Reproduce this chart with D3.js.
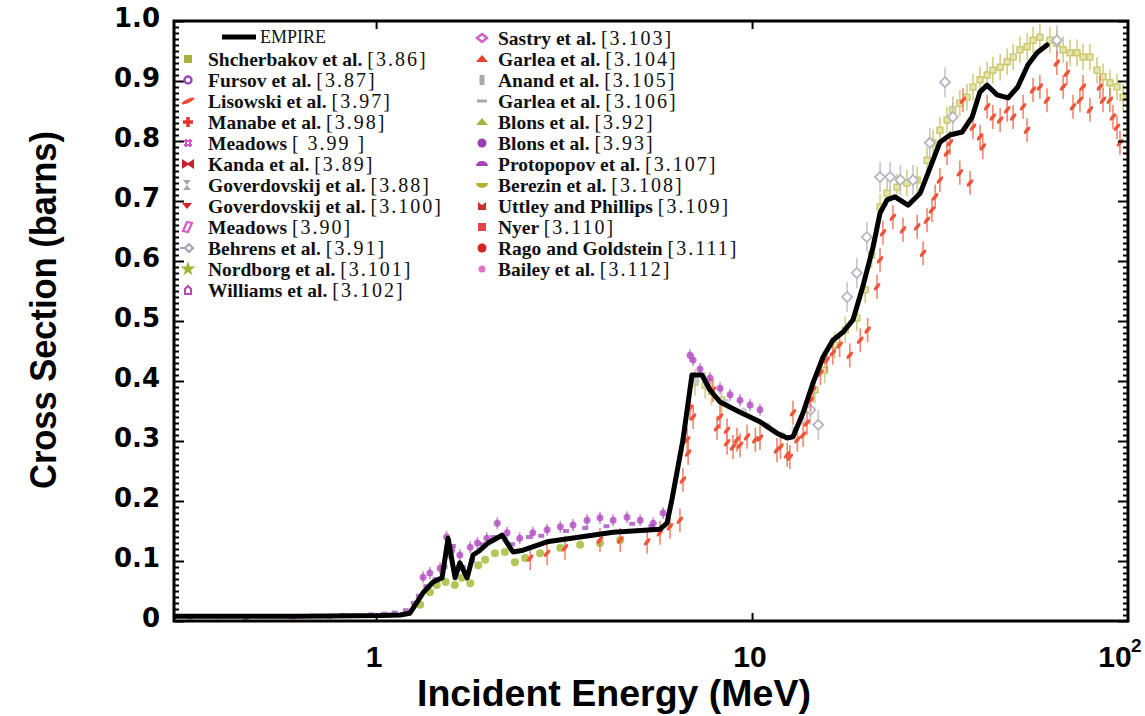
<!DOCTYPE html>
<html>
<head>
<meta charset="utf-8">
<script src="https://cdn.jsdelivr.net/npm/d3@7"></script>
<style>
body { margin: 0; background: #fff; }
</style>
</head>
<body>
<div id="chart"></div>
<script>
// EMPIRE evaluation (E in MeV, cross section in barns)
const empire = [[0.29,0.008],[0.63,0.008],[1.025,0.009],[1.158,0.010],[1.23,0.013],[1.333,0.047],[1.418,0.065],
  [1.498,0.072],[1.554,0.138],[1.622,0.072],[1.67,0.097],[1.746,0.072],[1.811,0.11],[1.89,0.118],[1.985,0.13],
  [2.163,0.143],[2.313,0.115],[2.46,0.118],[2.85,0.132],[3.49,0.14],[4.27,0.148],[5.69,0.153],[5.94,0.163],
  [6.12,0.202],[6.55,0.302],[6.92,0.41],[7.36,0.41],[7.73,0.385],[8.22,0.365],[9.29,0.348],[10.5,0.332],
  [11.65,0.313],[12.4,0.305],[12.85,0.307],[13.67,0.347],[14.53,0.397],[15.45,0.44],[16.4,0.468],[17.5,0.482],
  [18.56,0.502],[19.7,0.557],[20.98,0.623],[21.9,0.68],[22.86,0.702],[24.0,0.707],[26.0,0.693],[28.0,0.713],
  [29.4,0.747],[31.6,0.798],[33.6,0.81],[36.2,0.815],[38.5,0.84],[40.4,0.882],[42.2,0.893],[44.8,0.877],
  [48.0,0.872],[50.9,0.89],[54.2,0.927],[57.3,0.947],[60.9,0.96]];

// experimental sets
const lisowski = [[2.57,0.105],[2.85,0.113],[3.18,0.122],[3.94,0.135],[4.46,0.135],[5.26,0.132],[5.69,0.147],
  [6.05,0.157],[6.43,0.168],[6.55,0.235],[6.76,0.28],[6.72,0.302],[6.84,0.355],[6.97,0.34],[7.87,0.385],
  [8.22,0.34],[8.07,0.322],[8.58,0.318],[8.58,0.297],[8.9,0.29],[9.12,0.302],[9.29,0.293],[9.7,0.307],
  [10.2,0.302],[10.5,0.305],[11.65,0.285],[11.9,0.29],[12.4,0.277],[12.6,0.273],[13.2,0.302],[13.67,0.31],
  [12.85,0.347],[14.0,0.33],[14.3,0.368],[14.53,0.385],[15.2,0.413],[15.8,0.435],[16.4,0.447],[17.1,0.46],
  [18.2,0.443],[19.4,0.468],[20.3,0.485],[21.5,0.557],[21.9,0.602],[22.3,0.647],[23.7,0.673],[25.2,0.652],
  [27.5,0.657],[28.5,0.613],[29.2,0.668],[30.1,0.685],[30.7,0.707],[31.6,0.735],[33.0,0.78],[33.6,0.797],
  [35.7,0.747],[38.0,0.73],[36.4,0.868],[38.7,0.823],[40.4,0.807],[41.1,0.79],[42.2,0.857],[43.7,0.84],
  [45.7,0.835],[47.7,0.852],[49.5,0.84],[52.6,0.857],[53.9,0.818],[55.9,0.885],[58.3,0.89],[60.9,0.868],
  [64.7,0.93],[67.2,0.89],[68.8,0.913],[71.4,0.857],[74.5,0.868],[75.9,0.89],[79.2,0.852],[84.2,0.89],
  [85.8,0.868],[89.5,0.868],[91.2,0.84],[93.5,0.823],[95.2,0.797]];
const shcherbakov = [[7.05,0.398],[7.5,0.393],[7.8,0.382],[8.3,0.368],[14.7,0.385],[15.6,0.418],[16.6,0.46],
  [17.7,0.485],[19.0,0.505],[20.0,0.552],[20.8,0.61],[21.9,0.69],[22.86,0.713],[24.3,0.723],[25.8,0.73],
  [27.5,0.735],[29.2,0.768],[30.3,0.797],[31.6,0.818],[33.0,0.835],[34.2,0.852],[35.7,0.863],[37.3,0.873],
  [38.7,0.89],[40.4,0.902],[42.2,0.91],[43.7,0.918],[45.7,0.923],[47.7,0.932],[49.5,0.94],[51.6,0.952],
  [53.9,0.957],[55.9,0.968],[58.3,0.973],[62.0,0.968],[64.7,0.963],[67.2,0.952],[70.1,0.947],[73.2,0.947],
  [75.9,0.94],[79.2,0.94],[82.7,0.918],[85.8,0.907],[89.5,0.897],[93.5,0.89],[97.0,0.873]];
const behrens = [[14.3,0.352],[15.0,0.327],[17.9,0.54],[19.0,0.58],[20.2,0.64],[21.9,0.74],[23.3,0.74],
  [24.8,0.735],[26.8,0.735],[29.7,0.797],[32.6,0.898],[34.2,0.84],[64.7,0.968]];
const meadowsLow = [[1.333,0.073],[1.39,0.08],[1.48,0.088],[1.54,0.14],[1.59,0.118],[1.67,0.11],[1.78,0.123],
  [1.86,0.13],[1.97,0.138],[2.1,0.163],[2.23,0.147],[2.41,0.138],[2.61,0.147],[2.85,0.152],[3.09,0.157],
  [3.34,0.16],[3.64,0.168],[3.94,0.172],[4.27,0.168],[4.65,0.173],[5.04,0.168],[5.46,0.163],[5.8,0.18],
  [6.84,0.443],[6.97,0.435],[7.27,0.42],[7.73,0.405],[8.22,0.388],[8.74,0.377],[9.29,0.368],[9.88,0.36],
  [10.5,0.352]];
const fursov = [[0.32,0.006],[0.38,0.007],[0.45,0.005],[0.52,0.008],[0.6,0.006],[0.68,0.009],[0.75,0.007],
  [0.82,0.01],[0.9,0.009],[0.97,0.011],[1.05,0.012],[1.12,0.014],[1.2,0.018],[1.26,0.03],[1.3,0.042],
  [1.36,0.058],[1.44,0.07],[1.52,0.09],[1.6,0.125],[1.7,0.09],[1.8,0.1],[1.92,0.128],[2.05,0.14],
  [2.3,0.128],[2.55,0.14],[2.75,0.142],[3.2,0.15],[3.6,0.155],[4.1,0.158],[4.8,0.162],[5.4,0.158]];
const nordborg = [[1.31,0.027],[1.39,0.048],[1.45,0.06],[1.53,0.065],[1.57,0.11],[1.62,0.06],[1.69,0.072],
  [1.78,0.063],[1.87,0.093],[1.95,0.102],[2.07,0.113],[2.2,0.115],[2.34,0.098],[2.49,0.105],[2.73,0.113],
  [3.09,0.122],[3.49,0.127],[3.94,0.13],[4.46,0.135]];
const goverdovskij = [[7.1,0.40],[7.6,0.39],[8.5,0.365],[9.5,0.35],[11.0,0.325],[12.0,0.31],[13.0,0.32],
  [13.6,0.335]];

// ticks
const yMajor = [0, 0.1, 0.2, 0.3, 0.4, 0.5, 0.6, 0.7, 0.8, 0.9, 1.0];
const yTickLabels = ["0", "0.1", "0.2", "0.3", "0.4", "0.5", "0.6", "0.7", "0.8", "0.9", "1.0"];
const xMajor = [1, 10, 100];
const xTickLabels = ["1", "10", "10"];

// legend
const legendLeftNames = ["Shcherbakov et al.", "Fursov et al.", "Lisowski et al.", "Manabe et al.", "Meadows",
  "Kanda et al.", "Goverdovskij et al.", "Goverdovskij et al.", "Meadows", "Behrens et al.", "Nordborg et al.",
  "Williams et al."];
const legendLeftRefs = ["[3.86]", "[3.87]", "[3.97]", "[3.98]", "[ 3.99 ]", "[3.89]", "[3.88]", "[3.100]",
  "[3.90]", "[3.91]", "[3.101]", "[3.102]"];
const legendRightNames = ["Sastry et al.", "Garlea et al.", "Anand et al.", "Garlea et al.", "Blons et al.",
  "Blons et al.", "Protopopov et al.", "Berezin et al.", "Uttley and Phillips", "Nyer", "Rago and Goldstein",
  "Bailey et al."];
const legendRightRefs = ["[3.103]", "[3.104]", "[3.105]", "[3.106]", "[3.92]", "[3.93]", "[3.107]", "[3.108]",
  "[3.109]", "[3.110]", "[3.111]", "[3.112]"];

const leftSyms = [["sq", "#a9b23c"], ["circOpen", "#9a46b8"], ["slash", "#f04a36"], ["plus", "#e8342e"],
  ["hash", "#d456c4"], ["bowtie", "#c8202e"], ["hourglass", "#a8a8ac"], ["triDown", "#d42020"],
  ["diamSlant", "#d45cc8"], ["diamTail", "#a0a4b4"], ["star", "#9db634"], ["house", "#b848b8"]];
const rightSyms = [["diamOpen", "#d060c4"], ["triUp", "#e4402c"], ["vbar", "#a8a8a8"], ["hbar", "#a8a8a8"],
  ["triUp", "#a2b444"], ["circ", "#9a40b4"], ["semiUp", "#a844b8"], ["semiDown", "#b4b42c"],
  ["sqNotch", "#d0302c"], ["sq", "#e84444"], ["circ", "#d42424"], ["circSmall", "#e070c8"]];

const W = 1145, H = 716;
const svg = d3.select("#chart").append("svg").attr("width", W).attr("height", H);

const x = d3.scaleLog().domain([0.29, 100]).range([174, 1128]);
const y = d3.scaleLinear().domain([0, 1]).range([621, 21]);

svg.append("clipPath").attr("id", "plotclip")
  .append("rect").attr("x", 175).attr("y", 22).attr("width", 952).attr("height", 598);

const plot = svg.append("g").attr("clip-path", "url(#plotclip)");

// generic error-bar scatter
function errSet(data, color, ey, exFrac, opacity) {
  const g = plot.append("g").attr("stroke", color).attr("stroke-width", 1.6).attr("opacity", opacity);
  g.selectAll("line.v").data(data).enter().append("line")
    .attr("x1", d => x(d[0])).attr("x2", d => x(d[0]))
    .attr("y1", d => y(d[1] - ey)).attr("y2", d => y(d[1] + ey));
  g.selectAll("line.h").data(data).enter().append("line")
    .attr("x1", d => x(d[0] * (1 - exFrac))).attr("x2", d => x(d[0] * (1 + exFrac)))
    .attr("y1", d => y(d[1])).attr("y2", d => y(d[1]));
  return g;
}

// Shcherbakov (pale olive squares with bars)
errSet(shcherbakov, "#cdca72", 0.022, 0.012, 0.9);
plot.append("g").selectAll("rect").data(shcherbakov).enter().append("rect")
  .attr("x", d => x(d[0]) - 3).attr("y", d => y(d[1]) - 3).attr("width", 6).attr("height", 6)
  .attr("fill", "#e6e4a8").attr("stroke", "#c4c262").attr("stroke-width", 1.2);

// Behrens (grey open diamonds)
errSet(behrens, "#bcbcc6", 0.025, 0.015, 0.85);
plot.append("g").selectAll("path").data(behrens).enter().append("path")
  .attr("transform", d => `translate(${x(d[0])},${y(d[1])})`)
  .attr("d", "M0,-5L5,0L0,5L-5,0Z")
  .attr("fill", "#fff").attr("stroke", "#b0b2c0").attr("stroke-width", 1.7);

// Goverdovskij (grey)
plot.append("g").selectAll("circle").data(goverdovskij).enter().append("circle")
  .attr("cx", d => x(d[0])).attr("cy", d => y(d[1])).attr("r", 3.5)
  .attr("fill", "#c4c4d0").attr("opacity", 0.8);

// Nordborg (olive green, below the curve)
plot.append("g").selectAll("circle").data(nordborg).enter().append("circle")
  .attr("cx", d => x(d[0])).attr("cy", d => y(d[1])).attr("r", 4)
  .attr("fill", "#a6bc3a").attr("opacity", 0.85);

// Meadows / Fursov (purple, magenta)
errSet(meadowsLow, "#c070cc", 0.01, 0.006, 0.8);
plot.append("g").selectAll("circle").data(meadowsLow).enter().append("circle")
  .attr("cx", d => x(d[0])).attr("cy", d => y(d[1])).attr("r", 3.5)
  .attr("fill", "#b24cc0").attr("opacity", 0.8);
plot.append("g").selectAll("rect").data(fursov).enter().append("rect")
  .attr("x", d => x(d[0]) - 3).attr("y", d => y(d[1]) - 2).attr("width", 6).attr("height", 4)
  .attr("fill", "#9a46b8").attr("opacity", 0.75);

// Lisowski (red slashes with error bars)
errSet(lisowski, "#f37a62", 0.02, 0.012, 0.9);
plot.append("g").selectAll("ellipse").data(lisowski).enter().append("ellipse")
  .attr("transform", d => `translate(${x(d[0])},${y(d[1])}) rotate(-50)`)
  .attr("rx", 4.5).attr("ry", 1.8)
  .attr("fill", "#f0553c");

// EMPIRE
plot.append("path").datum(empire)
  .attr("fill", "none").attr("stroke", "#000").attr("stroke-width", 5)
  .attr("stroke-linejoin", "round").attr("stroke-linecap", "round")
  .attr("d", d3.line().x(d => x(d[0])).y(d => y(d[1])));

// axes: inward ticks on all sides
const yMinor = y.ticks(100).filter(v => Math.round(v * 100) % 10 !== 0);
function tickAxis(axis, tr) {
  const g = svg.append("g").attr("transform", tr).call(axis);
  g.select(".domain").remove();
  g.selectAll("line").attr("stroke", "#000").attr("stroke-width", 2);
  return g;
}
tickAxis(d3.axisLeft(y).tickValues(yMajor).tickSize(-10).tickFormat(""), "translate(174,0)");
tickAxis(d3.axisLeft(y).tickValues(yMinor).tickSize(-5).tickFormat(""), "translate(174,0)");
tickAxis(d3.axisRight(y).tickValues(yMajor).tickSize(-10).tickFormat(""), "translate(1128,0)");
tickAxis(d3.axisRight(y).tickValues(yMinor).tickSize(-5).tickFormat(""), "translate(1128,0)");
tickAxis(d3.axisBottom(x).tickValues([1, 10]).tickSize(-8).tickFormat(""), "translate(0,621)");
tickAxis(d3.axisTop(x).tickValues([1, 10]).tickSize(-8).tickFormat(""), "translate(0,21)");

svg.append("rect").attr("x", 174).attr("y", 21).attr("width", 954).attr("height", 600)
  .attr("fill", "none").attr("stroke", "#000").attr("stroke-width", 3);

// tick labels
svg.append("g").selectAll("text").data(yMajor).enter().append("text")
  .attr("x", 160).attr("y", d => y(d) - 3).attr("dy", "0.36em")
  .attr("text-anchor", "end")
  .style("font-family", "'DejaVu Sans', sans-serif").style("font-weight", "bold").style("font-size", "26px")
  .text((d, i) => yTickLabels[i]);

const xl = svg.append("g").style("font-family", "'Liberation Sans', Arial, sans-serif")
  .style("font-weight", "bold").style("font-size", "30px");
xl.selectAll("text").data(xMajor).enter().append("text")
  .attr("x", (d, i) => x(d) - (i === 2 ? 13 : 2)).attr("y", 667)
  .attr("text-anchor", "middle")
  .text((d, i) => xTickLabels[i]);
xl.append("text").attr("x", x(100) + 3).attr("y", 652).attr("text-anchor", "start")
  .style("font-size", "19px").text("2");

// axis titles
svg.append("text").attr("x", 614).attr("y", 706).attr("text-anchor", "middle")
  .attr("textLength", 394).attr("lengthAdjust", "spacingAndGlyphs")
  .style("font-family", "'Liberation Sans', Arial, sans-serif").style("font-weight", "bold")
  .style("font-size", "36px").text("Incident Energy (MeV)");
svg.append("text").attr("transform", "translate(56,310) rotate(-90)").attr("text-anchor", "middle")
  .attr("textLength", 358).attr("lengthAdjust", "spacingAndGlyphs")
  .style("font-family", "'Liberation Sans', Arial, sans-serif").style("font-weight", "bold")
  .style("font-size", "36px").text("Cross Section (barns)");

// legend symbols
function symbol(g, type, c) {
  switch (type) {
    case "sq": g.append("rect").attr("x", -4).attr("y", -4).attr("width", 8).attr("height", 8).attr("fill", c); break;
    case "sqNotch": g.append("path").attr("d", "M-4,-4H4V4H-4Z M-4,-4L0,-1L4,-4").attr("fill", c); break;
    case "circOpen": g.append("circle").attr("r", 3.5).attr("fill", "#fff").attr("stroke", c).attr("stroke-width", 2.5); break;
    case "circ": g.append("circle").attr("r", 4.5).attr("fill", c); break;
    case "circSmall": g.append("circle").attr("r", 3.5).attr("fill", c); break;
    case "slash": g.append("ellipse").attr("rx", 7).attr("ry", 2).attr("transform", "rotate(-25)").attr("fill", c); break;
    case "plus": g.append("path").attr("d", "M-5,0H5M0,-5V5").attr("stroke", c).attr("stroke-width", 3.5); break;
    case "hash": g.append("path").attr("d", "M-4,-2H4M-4,2H4M-2,-4V4M2,-4V4").attr("stroke", c).attr("stroke-width", 2); break;
    case "bowtie": g.append("path").attr("d", "M-6,-5L0,-1L6,-5V5L0,1L-6,5Z").attr("fill", c); break;
    case "hourglass": g.append("path").attr("d", "M-5,-5H3L-1,0L3,5H-5L-1,0Z").attr("fill", c); break;
    case "triDown": g.append("path").attr("d", "M-6,-3L4,-3L-1,3Z").attr("fill", c); break;
    case "triUp": g.append("path").attr("d", "M-6,3L6,3L0,-4Z").attr("fill", c); break;
    case "diamSlant": g.append("path").attr("d", "M-5,4L-1,-5L4,-4L0,5Z").attr("fill", "none").attr("stroke", c).attr("stroke-width", 2.2); break;
    case "diamTail": g.append("path").attr("d", "M-8,0H-3M-3,0L1,-4L5,0L1,4Z").attr("fill", "#fff").attr("stroke", c).attr("stroke-width", 2.2); break;
    case "star": g.append("path").attr("d", d3.symbol(d3.symbolStar, 70)()).attr("fill", c); break;
    case "house": g.append("path").attr("d", "M-3,4V-1L0,-4L3,-1V4Z").attr("fill", "#fff").attr("stroke", c).attr("stroke-width", 2); break;
    case "diamOpen": g.append("path").attr("d", "M0,-4L5,0L0,4L-5,0Z").attr("fill", "#fff").attr("stroke", c).attr("stroke-width", 2.5); break;
    case "vbar": g.append("rect").attr("x", -2.5).attr("y", -5).attr("width", 5).attr("height", 10).attr("fill", c); break;
    case "hbar": g.append("rect").attr("x", -5).attr("y", -1.5).attr("width", 10).attr("height", 3).attr("fill", c); break;
    case "semiUp": g.append("path").attr("d", "M-6,2A6,5 0 0 1 6,2Z").attr("fill", c); break;
    case "semiDown": g.append("path").attr("d", "M-6,-2A6,5 0 0 0 6,-2Z").attr("fill", c); break;
  }
}

const legend = svg.append("g").style("font-family", "'Liberation Serif', 'Times New Roman', serif")
  .style("fill", "#111");

legend.append("line").attr("x1", 222).attr("x2", 256).attr("y1", 37).attr("y2", 37)
  .attr("stroke", "#000").attr("stroke-width", 5);
legend.append("text").attr("x", 260).attr("y", 43).style("font-size", "18px").text("EMPIRE");

function legendColumn(names, refs, syms, sx, tx, y0) {
  names.forEach((n, i) => {
    const yy = y0 + i * 21;
    symbol(legend.append("g").attr("transform", `translate(${sx},${yy})`), syms[i][0], syms[i][1]);
    const t = legend.append("text").attr("x", tx).attr("y", yy + 6.5);
    t.append("tspan").style("font-weight", "bold").style("font-size", "19.5px").text(n + " ");
    t.append("tspan").style("font-size", "20px").style("letter-spacing", "2px").text(refs[i]);
  });
}
legendColumn(legendLeftNames, legendLeftRefs, leftSyms, 188, 208, 59);
legendColumn(legendRightNames, legendRightRefs, rightSyms, 482, 498, 38);
</script>
</body>
</html>
